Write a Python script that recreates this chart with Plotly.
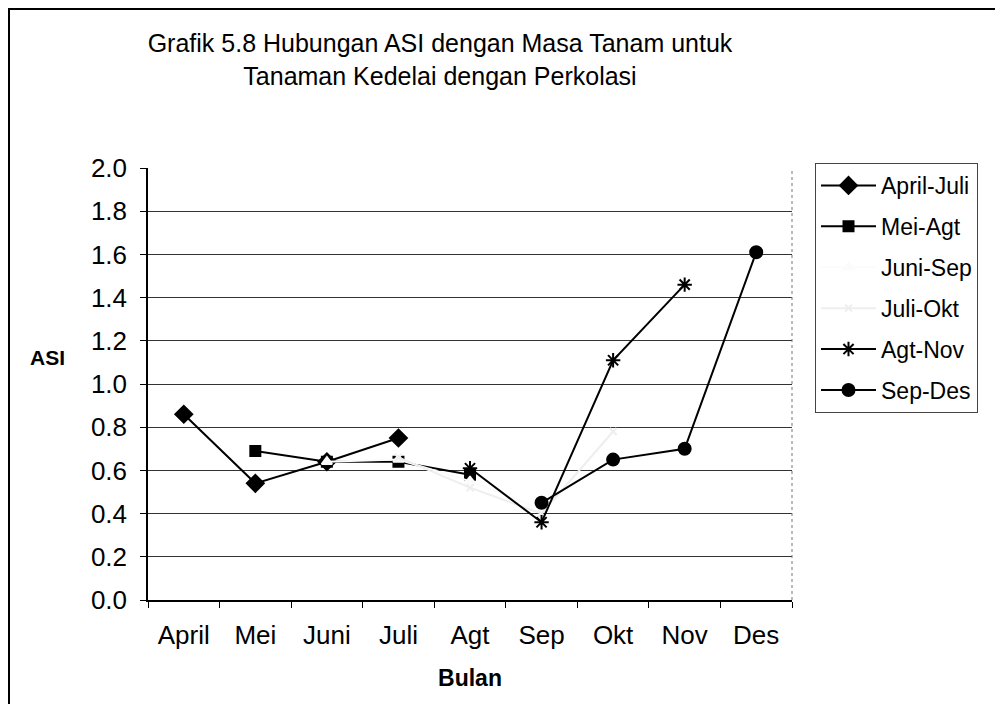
import plotly.graph_objects as go

bulan = ["April", "Mei", "Juni", "Juli", "Agt", "Sep", "Okt", "Nov", "Des"]

april_juli = [0.86, 0.54, 0.64, 0.75]
mei_agt = [0.69, 0.64, 0.64, 0.58]
juni_sep = [0.64, 0.65, 0.55, 0.42]
juli_okt = [0.66, 0.52, 0.40, 0.78]
agt_nov = [0.61, 0.36, 1.11, 1.46]
sep_des = [0.45, 0.65, 0.70, 1.61]

series = [
    ("April-Juli", bulan[0:4], april_juli, "black", "diamond", 13),
    ("Mei-Agt", bulan[1:5], mei_agt, "black", "square", 10),
    ("Juni-Sep", bulan[2:6], juni_sep, "#fbfbfb", "triangle-up", 9),
    ("Juli-Okt", bulan[3:7], juli_okt, "#eeeeee", "x-thin-open", 7),
    ("Agt-Nov", bulan[4:8], agt_nov, "black", "asterisk-open", 12),
    ("Sep-Des", bulan[5:9], sep_des, "black", "circle", 12),
]

FONT = "Liberation Sans, Arial, sans-serif"

fig = go.Figure()
for name, xs, ys, col, sym, sz in series:
    fig.add_trace(go.Scatter(
        x=xs, y=ys, name=name, legendgroup=name, mode="lines+markers",
        line=dict(color=col, width=2),
        marker=dict(symbol=sym, size=sz, color=col, line=dict(color=col, width=2)),
    ))

# page body adds an 8px offset, so layout numbers are in figure coords
OFF = 8
W, H = 1003, 704
L, R, T, B = 140, 219, 160, 112
pw, ph = W - L - R, H - T - B

def px(x):
    return (x - OFF - L) / pw

def py(y):
    return (H - B - (y - OFF)) / ph

fig.update_layout(
    width=W, height=H,
    margin=dict(l=L, r=R, t=T, b=B, autoexpand=False),
    paper_bgcolor="white", plot_bgcolor="white",
    font=dict(family=FONT, color="black", size=20),
    title=dict(
        text="Grafik 5.8 Hubungan ASI dengan Masa Tanam untuk<br>Tanaman Kedelai dengan Perkolasi",
        x=(440 - OFF) / W, xanchor="center", y=1 - (52 - OFF) / H, yanchor="middle",
        font=dict(family=FONT, size=25),
    ),
    xaxis=dict(
        categoryorder="array", categoryarray=bulan,
        range=[-0.5, 8.5], tickson="boundaries",
        ticks="outside", ticklen=6, tickcolor="black",
        ticklabelstandoff=11,
        showline=True, linecolor="black", linewidth=1.5,
        showgrid=False,
        tickfont=dict(family=FONT, size=26),
        title=dict(text="<b>Bulan</b>", font=dict(family=FONT, size=23), standoff=21),
    ),
    yaxis=dict(
        range=[0, 2.0], dtick=0.2, tickformat=".1f",
        ticks="outside", ticklen=6, tickcolor="black",
        ticklabelstandoff=8,
        showline=True, linecolor="black", linewidth=1.5,
        showgrid=True, gridcolor="#333", gridwidth=1,
        tickfont=dict(family=FONT, size=26),
    ),
    legend=dict(
        x=px(815), y=py(163), xanchor="left", yanchor="top",
        bordercolor="#444", borderwidth=1, bgcolor="white",
        font=dict(family=FONT, size=23),
        tracegroupgap=8, itemwidth=55,
    ),
    annotations=[dict(
        text="<b>ASI</b>", xref="paper", yref="paper",
        x=px(47), y=py(357), xanchor="center", yanchor="middle", showarrow=False,
        font=dict(family=FONT, size=21),
    )],
    shapes=[
        dict(type="rect", xref="paper", yref="paper",
             x0=px(9), x1=px(1010), y0=py(720), y1=py(9),
             line=dict(color="black", width=2)),
        dict(type="line", xref="paper", yref="paper",
             x0=1, x1=1, y0=0, y1=1,
             line=dict(color="#777", width=1, dash="dot")),
    ],
)

fig.write_html("out.html")
